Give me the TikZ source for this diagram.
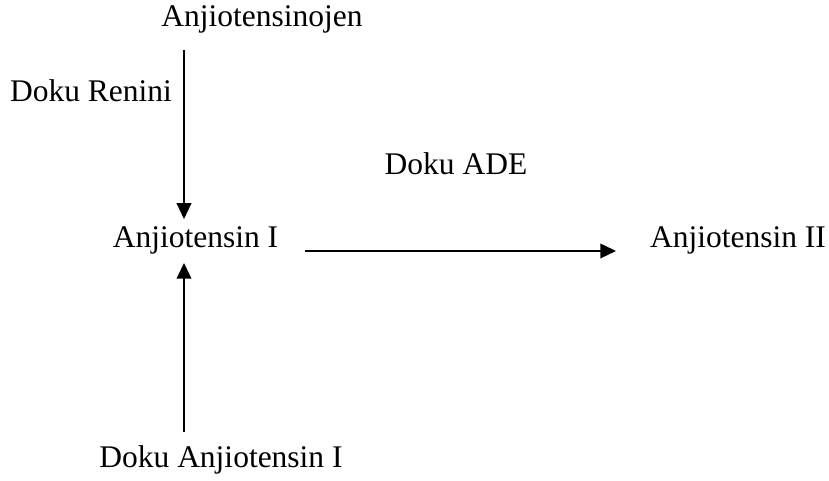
\documentclass[tikz,border=0pt]{standalone}
\usepackage{fontspec}
\setmainfont{Liberation Serif}
\usetikzlibrary{arrows.meta}
\tikzset{
  lbl/.style={anchor=base, inner sep=0pt, font=\fontsize{12}{14}\selectfont},
  arr/.style={line width=0.6pt, -{Triangle[length=6pt,width=5.6pt]}}
}
\begin{document}
\begin{tikzpicture}[x=0.381pt, y=-0.381pt]
\useasboundingbox (0,0) rectangle (829,481);
% labels
\node[lbl] (agen) at (262,27) {Anjiotensinojen};
\node[lbl] (renin) at (91,102) {Doku Renini};
\node[lbl] (ade) at (456,175) {Doku ADE};
\node[lbl] (ang1) at (195.5,248) {Anjiotensin I};
\node[lbl] (ang2) at (738,248) {Anjiotensin II};
\node[lbl] (doku) at (221,468) {Doku Anjiotensin I};
% arrow ends
\coordinate (downA) at (184,50);
\coordinate (downB) at (184,219);
\coordinate (upA) at (184,432);
\coordinate (upB) at (184,263);
\coordinate (rightA) at (305,251);
\coordinate (rightB) at (616,251);
\draw[arr] (downA) -- (downB);
\draw[arr] (upA) -- (upB);
\draw[arr] (rightA) -- (rightB);
\end{tikzpicture}
\end{document}
